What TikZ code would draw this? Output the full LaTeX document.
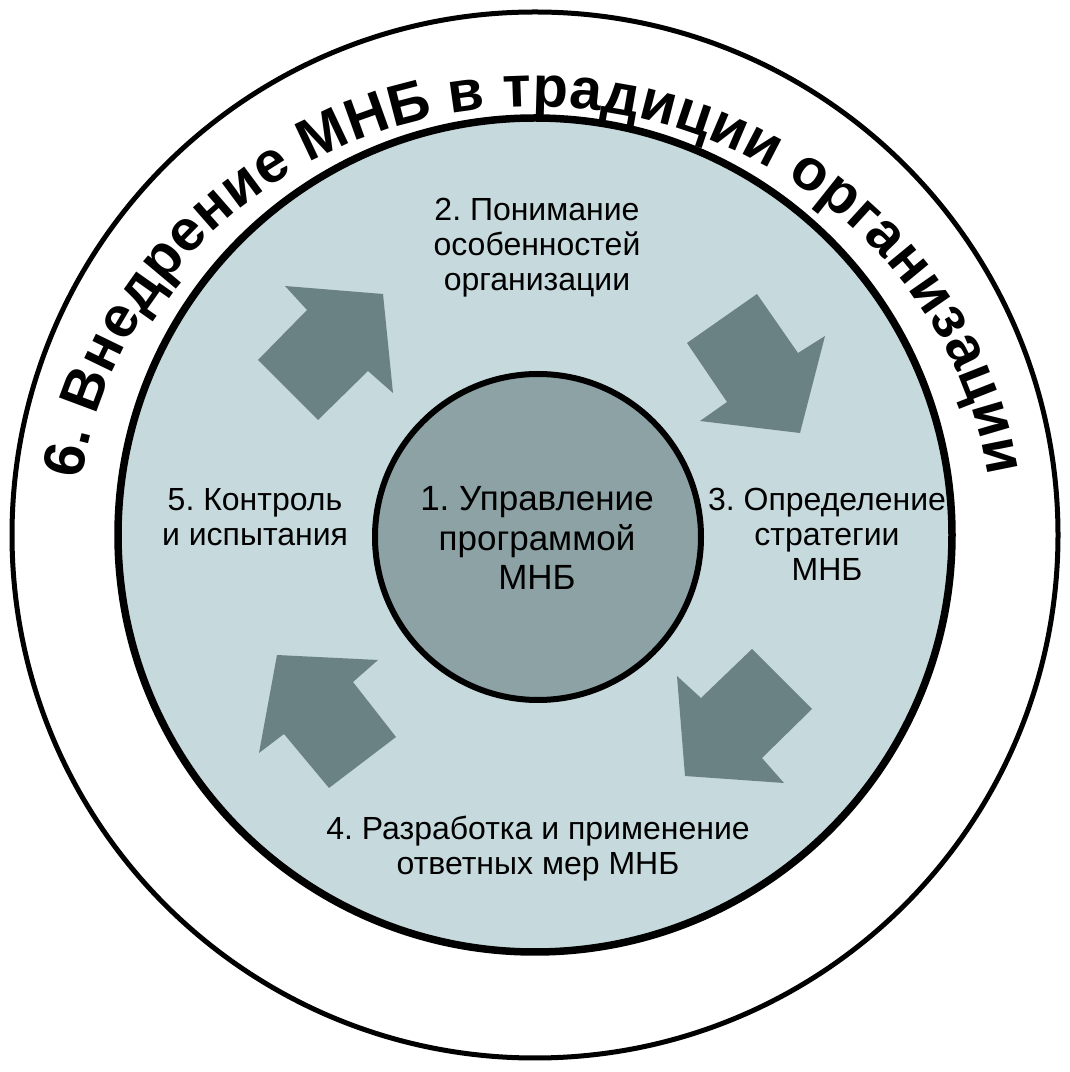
\documentclass[tikz,border=0pt]{standalone}
\usepackage{fontspec}
\setmainfont{Liberation Sans}
\frenchspacing
\usetikzlibrary{decorations.text}
\definecolor{ringfill}{RGB}{198,217,220}
\definecolor{corefill}{RGB}{140,162,165}
\definecolor{arrowfill}{RGB}{107,130,133}
\tikzset{
  ring/.style={draw=black,fill=#1},
  bigarrow/.style={fill=arrowfill,draw=none},
  lbl/.style={align=center,text=black,font=\frenchspacing\fontsize{32}{35}\selectfont},
  corelbl/.style={align=center,text=black,font=\frenchspacing\fontsize{35}{39.5}\selectfont}
}
\begin{document}
\begin{tikzpicture}[x=1pt,y=1pt]
\useasboundingbox[fill=white] (0,0) rectangle (1070,1072);
% circles
\draw[line width=5pt,fill=white] (535,537) circle[radius=523];
\draw[ring=ringfill,line width=7.5pt] (535,537) circle[radius=417];
\draw[ring=corefill,line width=6pt] (538,535) circle[radius=163];
% arrows
\fill[bigarrow] (258,712) -- (307,762) -- (285,786) -- (383,778) -- (393,679) -- (368,701) -- (318,652) -- cycle;
\fill[bigarrow] (757,778) -- (798,719) -- (825,736) -- (800,639) -- (700,651) -- (727,670) -- (687,729) -- cycle;
\fill[bigarrow] (752,423) -- (812,363) -- (762,314) -- (784,289) -- (685,296) -- (677,396) -- (701,374) -- cycle;
\fill[bigarrow] (396,335) -- (353,390) -- (378,412) -- (277,417) -- (259,319) -- (284,338) -- (329,284) -- cycle;
% labels
\node[corelbl] (core) at (537,534) {1. Управление\\программой\\МНБ};
\node[lbl] (context) at (537,824) {2. Понимание\\особенностей\\организации};
\node[lbl] (strategy) at (827,538) {3. Определение\\стратегии\\МНБ};
\node[lbl] (response) at (538,223) {4. Разработка и применение\\ответных мер МНБ};
\node[lbl] (testing) at (255,555) {5. Контроль\\и испытания};
% outer curved title
\path[decorate,decoration={text along path,text align={fit to path},
  text={|\fontsize{58}{62}\selectfont\bfseries|6. Внедрение МНБ в традиции организации}}]
  (535,532) ++(172:458 and 433) arc[start angle=172,end angle=8.5,x radius=458,y radius=433];
\end{tikzpicture}
\end{document}
